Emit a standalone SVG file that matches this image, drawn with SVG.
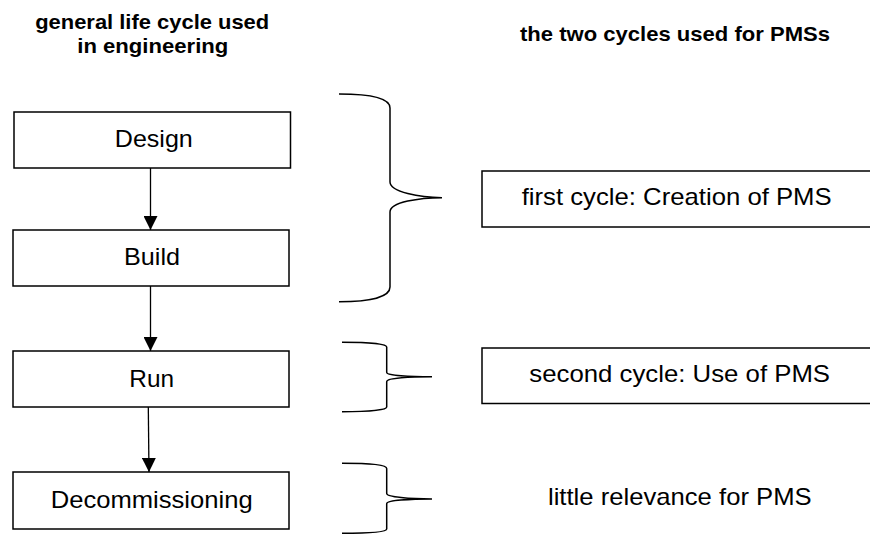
<svg xmlns="http://www.w3.org/2000/svg" width="870" height="537" viewBox="0 0 870 537">
<style>
.box{fill:#fff;stroke:#000;stroke-width:1.5}
.lbl{font-family:"Liberation Sans",Arial,sans-serif;font-size:24px;fill:#000;text-anchor:middle}
.ttl{font-family:"Liberation Sans",Arial,sans-serif;font-size:20.5px;font-weight:bold;fill:#000;text-anchor:middle}
.edge{stroke:#000;stroke-width:1.3;fill:none}
.brace{stroke:#000;stroke-width:1.5;fill:none}
</style>
<defs>
<marker id="ah" markerUnits="userSpaceOnUse" markerWidth="14" markerHeight="14" refX="14" refY="7" orient="auto">
<path d="M0,0 L14,7 L0,14 Z" fill="#000"/>
</marker>
</defs>
<rect width="870" height="537" fill="#fff"/>
<g id="titles">
<text class="ttl" x="152.2" y="29" textLength="234" lengthAdjust="spacingAndGlyphs">general life cycle used</text>
<text class="ttl" x="152.8" y="53" textLength="151" lengthAdjust="spacingAndGlyphs">in engineering</text>
<text class="ttl" x="675" y="41" textLength="310" lengthAdjust="spacingAndGlyphs">the two cycles used for PMSs</text>
</g>
<g id="connectors">
<line class="edge" x1="150.5" y1="168" x2="150.5" y2="230" marker-end="url(#ah)"/>
<line class="edge" x1="150.5" y1="286" x2="150.5" y2="351" marker-end="url(#ah)"/>
<line class="edge" x1="148.3" y1="407" x2="149" y2="472" marker-end="url(#ah)"/>
</g>
<g id="design"><rect class="box" x="14" y="112" width="276.5" height="56"/><text class="lbl" x="153.8" y="147" textLength="78" lengthAdjust="spacingAndGlyphs">Design</text></g>
<g id="build"><rect class="box" x="13" y="230" width="276" height="56"/><text class="lbl" x="152" y="265" textLength="56" lengthAdjust="spacingAndGlyphs">Build</text></g>
<g id="run"><rect class="box" x="13" y="351" width="276" height="56"/><text class="lbl" x="151.7" y="387" textLength="44.7" lengthAdjust="spacingAndGlyphs">Run</text></g>
<g id="decommissioning"><rect class="box" x="13" y="472" width="276" height="57"/><text class="lbl" x="151.7" y="508" textLength="202" lengthAdjust="spacingAndGlyphs">Decommissioning</text></g>
<g id="braces">
<path class="brace" d="M339,94 C370,94 390,98 390,108 L390,182 C390,192 420,197.7 442,197.7 C420,197.7 390,202 390,212 L390,287 C390,297 370,301.7 339,301.7"/>
<path class="brace" d="M342,342.3 C370,342.3 386.7,344 386.7,347 L386.7,372.5 C386.7,375.5 410,376.7 432,376.7 C410,376.7 386.7,378 386.7,381.5 L386.7,407 C386.7,410 370,411.7 342,411.7"/>
<path class="brace" d="M342,463.3 C370,463.3 386.7,465 386.7,468.5 L386.7,493.5 C386.7,497 410,499 432,499 C410,499 386.7,500.5 386.7,503.5 L386.7,529 C386.7,532 370,533.3 342,533.3"/>
</g>
<g id="first-cycle"><rect class="box" x="482" y="171" width="400" height="56"/><text class="lbl" x="676.7" y="205" textLength="310" lengthAdjust="spacingAndGlyphs">first cycle: Creation of PMS</text></g>
<g id="second-cycle"><rect class="box" x="482" y="348" width="400" height="55.5"/><text class="lbl" x="679.7" y="382" textLength="300.7" lengthAdjust="spacingAndGlyphs">second cycle: Use of PMS</text></g>
<g id="little-relevance"><text class="lbl" x="679.8" y="505" textLength="263.7" lengthAdjust="spacingAndGlyphs">little relevance for PMS</text></g>
</svg>
